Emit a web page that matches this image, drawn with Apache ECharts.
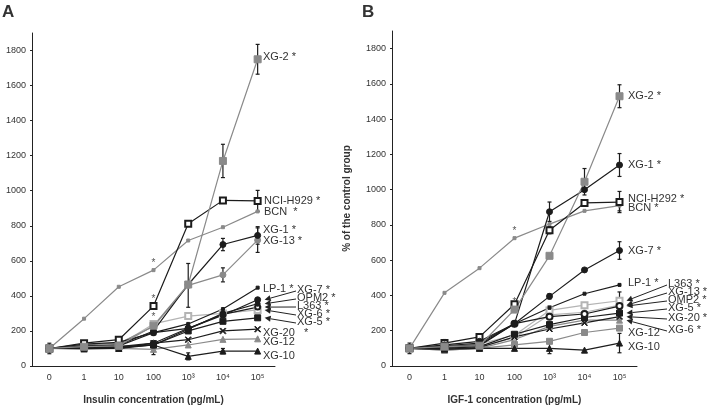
<!DOCTYPE html>
<html>
<head>
<meta charset="utf-8">
<script src="https://cdn.jsdelivr.net/npm/echarts@6/dist/echarts.min.js"></script>
<style>
  html, body { margin: 0; padding: 0; background: #fff; }
  #main { width: 723px; height: 410px; }
</style>
</head>
<body>
<div id="main"></div>
<script>
// concentrations (pg/mL)
var cats = ['0', '1', '10', '100', '10³', '10⁴', '10⁵'];

// Panel A: insulin, % of control group
var insXG2 = [100, 110, 115, 230, 465, 1170, 1750];
var insH929 = [100, 130, 150, 342, 812, 945, 942];
var insBCN = [100, 270, 452, 547, 716, 792, 882];
var insXG1 = [100, 115, 120, 200, 465, 693, 745];
var insXG13 = [100, 120, 130, 225, 460, 520, 718];
var insLP1 = [100, 110, 115, 190, 240, 325, 447];
var insXG7 = [100, 105, 110, 130, 215, 290, 378];
var insOPM2 = [100, 100, 105, 120, 210, 300, 355];
var insL363 = [100, 125, 135, 190, 215, 295, 336];
var insXG6 = [100, 110, 120, 240, 285, 300, 320];
var insXG5 = [100, 100, 110, 120, 200, 255, 275];
var insXG20 = [100, 105, 100, 130, 150, 200, 210];
var insXG12 = [100, 95, 100, 95, 120, 152, 155];
var insXG10 = [100, 100, 100, 120, 55, 85, 85];
// error bars (0 = not drawn)
var insXG2Err = [30, 0, 0, 0, 0, 95, 85];
var insH929Err = [0, 0, 0, 15, 15, 0, 60];
var insXG1Err = [0, 0, 0, 0, 0, 35, 50];
var insXG13Err = [0, 0, 0, 0, 125, 40, 70];
var insXG12Err = [0, 0, 0, 30, 0, 0, 0];
var insXG10Err = [0, 0, 0, 0, 20, 15, 0];

// Panel B: IGF-1, % of control group
var igfXG2 = [100, 110, 115, 320, 625, 1045, 1530];
var igfXG1 = [100, 120, 140, 240, 875, 1000, 1140];
var igfH292 = [100, 130, 165, 350, 770, 925, 930];
var igfBCN = [100, 415, 555, 725, 805, 880, 910];
var igfXG7 = [100, 110, 120, 240, 395, 545, 655];
var igfLP1 = [100, 115, 130, 240, 330, 410, 460];
var igfL363 = [100, 110, 125, 175, 315, 345, 370];
var igfXG13 = [100, 100, 110, 160, 290, 305, 345];
var igfOMP2 = [100, 105, 115, 240, 280, 295, 340];
var igfXG5 = [100, 100, 110, 180, 235, 275, 300];
var igfXG20 = [100, 95, 105, 165, 210, 245, 280];
var igfXG6 = [100, 90, 100, 150, 225, 260, 260];
var igfXG12 = [100, 90, 100, 120, 140, 190, 215];
var igfXG10 = [100, 95, 100, 100, 100, 90, 130];
var igfXG2Err = [30, 0, 0, 0, 0, 75, 65];
var igfXG1Err = [0, 30, 0, 0, 55, 0, 65];
var igfH292Err = [0, 0, 0, 0, 20, 0, 60];
var igfBCN_Err = [0, 0, 0, 0, 0, 0, 30];
var igfXG7Err = [0, 0, 0, 0, 15, 0, 50];
var igfL363Err = [0, 0, 0, 0, 25, 0, 50];
var igfXG10Err = [0, 0, 0, 0, 30, 0, 55];

var BLACK = '#1c1c1c', GRAY = '#8a8a8a', LIGHT = '#b4b4b4';
var CROSS = 'path://M0,1L1,0L5,4L9,0L10,1L6,5L10,9L9,10L5,6L1,10L0,9L4,5Z';
var FONT = 'Liberation Sans';

var chartDom = document.getElementById('main');
var myChart = echarts.init(chartDom);

function lineSeries(idx, data, color, symbol, size) {
  return {
    type: 'line', xAxisIndex: idx, yAxisIndex: idx, data: data,
    symbol: symbol, symbolSize: size, showAllSymbol: true,
    itemStyle: { color: color, borderColor: color },
    lineStyle: { color: color, width: 1.2 },
    animation: false, z: 3
  };
}

function errSeries(idx, vals, errs, color) {
  var d = [];
  for (var i = 0; i < vals.length; i++) {
    if (errs[i] > 0) d.push([i, vals[i], errs[i]]);
  }
  return {
    type: 'custom', xAxisIndex: idx, yAxisIndex: idx, data: d, z: 2,
    animation: false,
    renderItem: function (params, api) {
      var x = api.value(0), v = api.value(1), e = api.value(2);
      var top = api.coord([x, v + e]);
      var bot = api.coord([x, v - e]);
      var st = { stroke: color, lineWidth: 1.2 };
      return {
        type: 'group', children: [
          { type: 'line', shape: { x1: top[0], y1: top[1], x2: bot[0], y2: bot[1] }, style: st },
          { type: 'line', shape: { x1: top[0] - 2, y1: top[1], x2: top[0] + 2, y2: top[1] }, style: st },
          { type: 'line', shape: { x1: bot[0] - 2, y1: bot[1], x2: bot[0] + 2, y2: bot[1] }, style: st }
        ]
      };
    }
  };
}

function yAxis(idx, name) {
  return {
    type: 'value', gridIndex: idx, min: 0, max: 1900, interval: 200,
    name: name, nameLocation: 'middle', nameGap: 40,
    nameTextStyle: { fontFamily: FONT, fontSize: 10, fontWeight: 'bold', color: '#333' },
    axisLine: { show: true, lineStyle: { color: '#222', width: 1 } },
    axisTick: { show: true, length: 2, lineStyle: { color: '#222' } },
    axisLabel: {
      fontFamily: FONT, fontSize: 9, color: '#333', margin: 6, showMaxLabel: false,
      formatter: function (v) { return String(v); }
    },
    splitLine: { show: false }
  };
}

function xAxis(idx, name) {
  return {
    type: 'category', gridIndex: idx, data: cats,
    name: name, nameLocation: 'middle', nameGap: 29,
    nameTextStyle: { fontFamily: FONT, fontSize: 10, fontWeight: 'bold', color: '#333' },
    axisLine: { lineStyle: { color: '#222', width: 1 } },
    axisTick: { inside: true, length: 3, lineStyle: { color: '#222' } },
    axisLabel: { fontFamily: FONT, fontSize: 9, color: '#333', margin: 7 }
  };
}

var seriesA = [
  lineSeries(0, insBCN, GRAY, 'rect', 3),
  lineSeries(0, insXG12, GRAY, 'triangle', 6),
  lineSeries(0, insXG6, LIGHT, 'emptyRect', 6),
  lineSeries(0, insXG13, GRAY, 'circle', 6),
  lineSeries(0, insXG10, BLACK, 'triangle', 6),
  lineSeries(0, insXG20, BLACK, CROSS, 6),
  lineSeries(0, insXG5, BLACK, 'rect', 6),
  lineSeries(0, insL363, BLACK, 'emptyCircle', 5),
  lineSeries(0, insOPM2, BLACK, 'circle', 5),
  lineSeries(0, insXG7, BLACK, 'circle', 6),
  lineSeries(0, insLP1, BLACK, 'rect', 3),
  lineSeries(0, insXG1, BLACK, 'circle', 6),
  lineSeries(0, insH929, BLACK, 'emptyRect', 6),
  lineSeries(0, insXG2, GRAY, 'rect', 7),
  errSeries(0, insXG2, insXG2Err, BLACK),
  errSeries(0, insH929, insH929Err, BLACK),
  errSeries(0, insXG1, insXG1Err, BLACK),
  errSeries(0, insXG13, insXG13Err, BLACK),
  errSeries(0, insXG12, insXG12Err, BLACK),
  errSeries(0, insXG10, insXG10Err, BLACK)
];

var seriesB = [
  lineSeries(1, igfBCN, GRAY, 'rect', 3),
  lineSeries(1, igfXG12, GRAY, 'rect', 6),
  lineSeries(1, igfXG6, GRAY, 'triangle', 6),
  lineSeries(1, igfXG13, LIGHT, 'circle', 5),
  lineSeries(1, igfL363, LIGHT, 'emptyRect', 6),
  lineSeries(1, igfXG10, BLACK, 'triangle', 6),
  lineSeries(1, igfXG20, BLACK, CROSS, 6),
  lineSeries(1, igfXG5, BLACK, 'rect', 6),
  lineSeries(1, igfOMP2, BLACK, 'emptyCircle', 6),
  lineSeries(1, igfLP1, BLACK, 'rect', 3),
  lineSeries(1, igfXG7, BLACK, 'circle', 6),
  lineSeries(1, igfH292, BLACK, 'emptyRect', 6),
  lineSeries(1, igfXG1, BLACK, 'circle', 6),
  lineSeries(1, igfXG2, GRAY, 'rect', 7),
  errSeries(1, igfXG2, igfXG2Err, BLACK),
  errSeries(1, igfXG1, igfXG1Err, BLACK),
  errSeries(1, igfH292, igfH292Err, BLACK),
  errSeries(1, igfBCN, igfBCN_Err, BLACK),
  errSeries(1, igfXG7, igfXG7Err, BLACK),
  errSeries(1, igfL363, igfL363Err, BLACK),
  errSeries(1, igfXG10, igfXG10Err, BLACK)
];

var option = {
  backgroundColor: '#fff',
  grid: [
    { left: 32, top: 33, width: 243, height: 338 },
    { left: 392, top: 31, width: 245, height: 337 }
  ],
  xAxis: [xAxis(0, 'Insulin concentration (pg/mL)'), xAxis(1, 'IGF-1 concentration (pg/mL)')],
  yAxis: [yAxis(0, ''), yAxis(1, '% of the control group')],
  series: seriesA.concat(seriesB)
};

myChart.setOption(option);

// labels at the right of each panel, some with arrows to the last point
var labelsA = [
  ['XG-2 *', 263, 57, insXG2, false],
  ['NCI-H929 *', 264, 201, insH929, false],
  ['BCN  *', 264, 212, insBCN, false],
  ['XG-1 *', 263, 230, insXG1, false],
  ['XG-13 *', 263, 241, insXG13, false],
  ['LP-1 *', 263, 289, insLP1, false],
  ['XG-7 *', 297, 290, insXG7, true],
  ['OPM2 *', 297, 298, insOPM2, true],
  ['L363 *', 297, 306, insL363, true],
  ['XG-6 *', 297, 314, insXG6, true],
  ['XG-5 *', 297, 322, insXG5, true],
  ['XG-20   *', 263, 333, insXG20, false],
  ['XG-12', 263, 342, insXG12, false],
  ['XG-10', 263, 356, insXG10, false]
];
var labelsB = [
  ['XG-2 *', 628, 96, igfXG2, false],
  ['XG-1 *', 628, 165, igfXG1, false],
  ['NCI-H292 *', 628, 199, igfH292, false],
  ['BCN *', 628, 208, igfBCN, false],
  ['XG-7 *', 628, 251, igfXG7, false],
  ['LP-1 *', 628, 283, igfLP1, false],
  ['L363 *', 668, 284, igfL363, true],
  ['XG-13 *', 668, 292, igfXG13, true],
  ['OMP2 *', 668, 300, igfOMP2, true],
  ['XG-5 *', 668, 308, igfXG5, true],
  ['XG-20 *', 668, 318, igfXG20, true],
  ['XG-6 *', 668, 330, igfXG6, true],
  ['XG-12', 628, 333, igfXG12, false],
  ['XG-10', 628, 347, igfXG10, false]
];

var graphics = [
  { type: 'text', left: 2, top: 4, style: { text: 'A', font: 'bold 17px ' + FONT, fill: '#333' } },
  { type: 'text', left: 362, top: 4, style: { text: 'B', font: 'bold 17px ' + FONT, fill: '#333' } }
];

function addLabels(list, gridIndex) {
  list.forEach(function (l) {
    graphics.push({
      type: 'text', z: 10,
      style: { text: l[0], x: l[1], y: l[2], font: '11px ' + FONT, fill: '#333', align: 'left', verticalAlign: 'middle' }
    });
    if (l[4]) {
      var p = myChart.convertToPixel({ gridIndex: gridIndex }, [6, l[3][6]]);
      var tx = p[0] + 7, ty = p[1];
      var sx = l[1] - 1, sy = l[2] + 1;
      var ang = Math.atan2(ty - sy, tx - sx);
      var hl = 6, hw = 3;
      var bx = tx - hl * Math.cos(ang), by = ty - hl * Math.sin(ang);
      graphics.push({ type: 'line', z: 10, shape: { x1: sx, y1: sy, x2: bx, y2: by }, style: { stroke: '#222', lineWidth: 1 } });
      graphics.push({
        type: 'polygon', z: 10,
        shape: { points: [[tx, ty], [bx - hw * Math.sin(ang), by + hw * Math.cos(ang)], [bx + hw * Math.sin(ang), by - hw * Math.cos(ang)]] },
        style: { fill: '#222' }
      });
    }
  });
}
addLabels(labelsA, 0);
addLabels(labelsB, 1);

// significance stars above points at 100 pg/mL
function star(gridIndex, arr, idx) {
  var p = myChart.convertToPixel({ gridIndex: gridIndex }, [idx, arr[idx]]);
  graphics.push({ type: 'text', z: 10, style: { text: '*', x: p[0], y: p[1] - 7, font: '10px ' + FONT, fill: '#555', align: 'center', verticalAlign: 'middle' } });
}
star(0, insBCN, 3);
star(0, insH929, 3);
star(0, insXG6, 3);
star(1, igfBCN, 3);
star(1, igfXG2, 3);

myChart.setOption({ graphic: graphics });
</script>
</body>
</html>
